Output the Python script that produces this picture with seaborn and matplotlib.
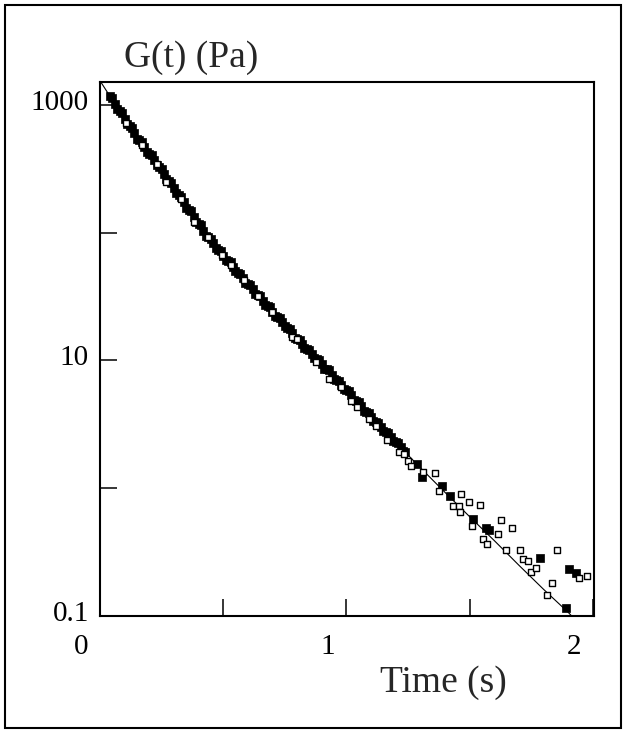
import matplotlib
matplotlib.use("Agg")
import matplotlib.pyplot as plt
import matplotlib.transforms as mtransforms
from matplotlib.patches import Rectangle
import seaborn as sns
import pandas as pd

# fitted relaxation modulus (solid line)
fit_time = [0.0, 0.1, 0.2, 0.3, 0.4, 0.5, 0.6, 0.7, 0.8, 0.9, 1.0,
            1.1, 1.2, 1.3, 1.4, 1.5, 1.6, 1.7, 1.8, 1.9, 1.93]
fit_modulus = [1549, 776, 417, 224, 117, 66.1, 39.8, 24.0, 14.8, 9.33, 5.89,
               3.63, 2.29, 1.45, 0.93, 0.60, 0.39, 0.25, 0.162, 0.107, 0.093]

# measured data, filled squares
filled_time = [0.04, 0.06, 0.08, 0.10, 0.12, 0.14, 0.16, 0.18, 0.20, 0.22,
               0.24, 0.26, 0.28, 0.30, 0.32, 0.34, 0.36, 0.38, 0.40, 0.42,
               0.44, 0.46, 0.48, 0.50, 0.52, 0.54, 0.56, 0.58, 0.60, 0.62,
               0.64, 0.66, 0.68, 0.70, 0.72, 0.74, 0.76, 0.78, 0.80, 0.82,
               0.84, 0.86, 0.88, 0.90, 0.92, 0.94, 0.96, 0.98, 1.00, 1.02,
               1.04, 1.06, 1.08, 1.10, 1.12, 1.14, 1.16, 1.18, 1.20, 1.22,
               1.24, 1.285, 1.309, 1.390, 1.419, 1.516, 1.565, 1.580, 1.785,
               1.890, 1.902, 1.931]
filled_modulus = [1175, 1023, 891, 776, 682, 600, 530, 470, 417, 370,
                  328, 290, 255, 224, 197, 173, 152, 134, 117, 104,
                  92.5, 82.4, 73.8, 66.1, 59.7, 54.0, 48.8, 44.1, 39.8, 36.0,
                  32.5, 29.4, 26.5, 24.0, 21.9, 20.0, 18.1, 16.4, 14.8, 13.5,
                  12.3, 11.2, 10.2, 9.33, 8.51, 7.76, 7.08, 6.46, 5.89, 5.32,
                  4.81, 4.37, 3.98, 3.63, 3.31, 3.02, 2.75, 2.51, 2.29, 2.09,
                  1.91, 1.54, 1.22, 1.04, 0.866, 0.573, 0.49, 0.47, 0.284,
                  0.115, 0.233, 0.217]

# second run of filled squares, interleaved with the first
filled_time_b = [0.05, 0.07, 0.09, 0.11, 0.13, 0.15, 0.17, 0.19, 0.21, 0.23,
                 0.25, 0.27, 0.29, 0.31, 0.33, 0.35, 0.37, 0.39, 0.41, 0.43,
                 0.45, 0.47, 0.49, 0.51, 0.53, 0.55, 0.57, 0.59, 0.61, 0.63,
                 0.65, 0.67, 0.69, 0.71, 0.73, 0.75, 0.77, 0.79, 0.81, 0.83,
                 0.85, 0.87, 0.89, 0.91, 0.93, 0.95, 0.97, 0.99, 1.01, 1.03,
                 1.05, 1.07, 1.09, 1.11, 1.13, 1.15, 1.17, 1.19, 1.21, 1.23]
filled_modulus_b = [1130, 930, 860, 705, 660, 545, 515, 430, 405, 338,
                    318, 264, 246, 203, 191, 157, 147, 121, 114, 95,
                    90, 76, 72, 61, 58.5, 49.8, 47.7, 40.6, 39.0, 33.2,
                    31.8, 27.1, 26.0, 22.2, 21.5, 18.5, 17.7, 15.1, 14.5, 12.5,
                    12.1, 10.4, 10.1, 8.64, 8.37, 7.19, 6.96, 5.98, 5.77, 4.91,
                    4.71, 4.05, 3.91, 3.37, 3.26, 2.79, 2.71, 2.33, 2.26, 1.94]

# measured data, open squares
open_time = [0.106, 0.171, 0.230, 0.268, 0.330, 0.382, 0.440, 0.496, 0.533,
             0.585, 0.640, 0.700, 0.780, 0.800, 0.878, 0.931, 0.980, 1.020,
             1.045, 1.093, 1.122, 1.163, 1.215, 1.236, 1.252, 1.264, 1.313,
             1.358, 1.378, 1.431, 1.459, 1.463, 1.467, 1.496, 1.508, 1.541,
             1.553, 1.569, 1.614, 1.626, 1.646, 1.671, 1.703, 1.715, 1.736,
             1.748, 1.768, 1.813, 1.833, 1.854, 1.943, 1.976]
open_modulus = [724, 487, 348, 250, 185, 122, 92, 67, 56,
                43, 32, 24, 15.4, 14.6, 9.8, 7.1, 6.15, 4.8,
                4.3, 3.46, 3.05, 2.4, 1.91, 1.84, 1.63, 1.49, 1.33,
                1.31, 0.95, 0.72, 0.72, 0.65, 0.90, 0.78, 0.505, 0.74,
                0.40, 0.365, 0.44, 0.56, 0.33, 0.49, 0.33, 0.28, 0.27,
                0.22, 0.237, 0.146, 0.181, 0.33, 0.198, 0.205]

sns.set_style("ticks")
plt.rcParams['font.family'] = ['Liberation Serif', 'DejaVu Serif']

fig = plt.figure(figsize=(6.26, 7.32), dpi=100)
ax = fig.add_axes([0.1597, 0.1585, 0.7891, 0.7295])

fit_df = pd.DataFrame({'t': fit_time, 'G': fit_modulus})
filled_df = pd.DataFrame({'t': filled_time + filled_time_b,
                          'G': filled_modulus + filled_modulus_b})
open_df = pd.DataFrame({'t': open_time, 'G': open_modulus})

sns.lineplot(data=fit_df, x='t', y='G', color='black', linewidth=0.8,
             sort=False, ax=ax, zorder=2)
sns.scatterplot(data=filled_df, x='t', y='G', marker='s', s=32,
                color='black', edgecolor='black', linewidth=0.5, ax=ax, zorder=3)
sns.scatterplot(data=open_df, x='t', y='G', marker='s', s=21,
                facecolor='white', edgecolor='black', linewidth=1.0, ax=ax, zorder=4)

ax.set_yscale('log')
ax.set_xlim(0, 2.005)
ax.set_ylim(0.1, 1514)

ax.set_xticks([0, 1, 2])
ax.set_xticklabels(['0', '1', '2'])
ax.set_xticks([0.5, 1.5], minor=True)
ax.set_yticks([0.1, 1, 10, 100, 1000])
ax.set_yticklabels(['0.1', '', '10', '', '1000'])
ax.yaxis.set_minor_locator(matplotlib.ticker.NullLocator())

ax.tick_params(which='both', direction='in', length=12, width=1.1,
               color='black', labelsize=21, labelcolor='black')
ax.tick_params(axis='x', pad=13)
ax.tick_params(axis='y', pad=8)

# tick labels sit a little off their ticks in the original
shift_x = mtransforms.ScaledTranslation(-19 / 100, 0, fig.dpi_scale_trans)
for lab in ax.get_xticklabels():
    lab.set_transform(lab.get_transform() + shift_x)
shift_y = mtransforms.ScaledTranslation(0, 5 / 100, fig.dpi_scale_trans)
for lab in ax.get_yticklabels():
    lab.set_transform(lab.get_transform() + shift_y)

for side in ['top', 'right', 'bottom', 'left']:
    ax.spines[side].set_visible(True)
    ax.spines[side].set_linewidth(1.5)
    ax.spines[side].set_color('black')

ax.set_xlabel('Time (s)', fontsize=27, va='center')
ax.xaxis.set_label_coords(0.696, -0.125)
ax.set_ylabel('G(t) (Pa)', fontsize=27, rotation=0, ha='center', va='center')
ax.yaxis.set_label_coords(0.184, 1.045)

ax.grid(False)

# border around the whole picture
fig.patches.append(Rectangle((5 / 626, 4 / 732), 616 / 626, 723 / 732,
                             transform=fig.transFigure, fill=False,
                             edgecolor='black', linewidth=1.5))

fig.savefig('out.png', dpi=100)
